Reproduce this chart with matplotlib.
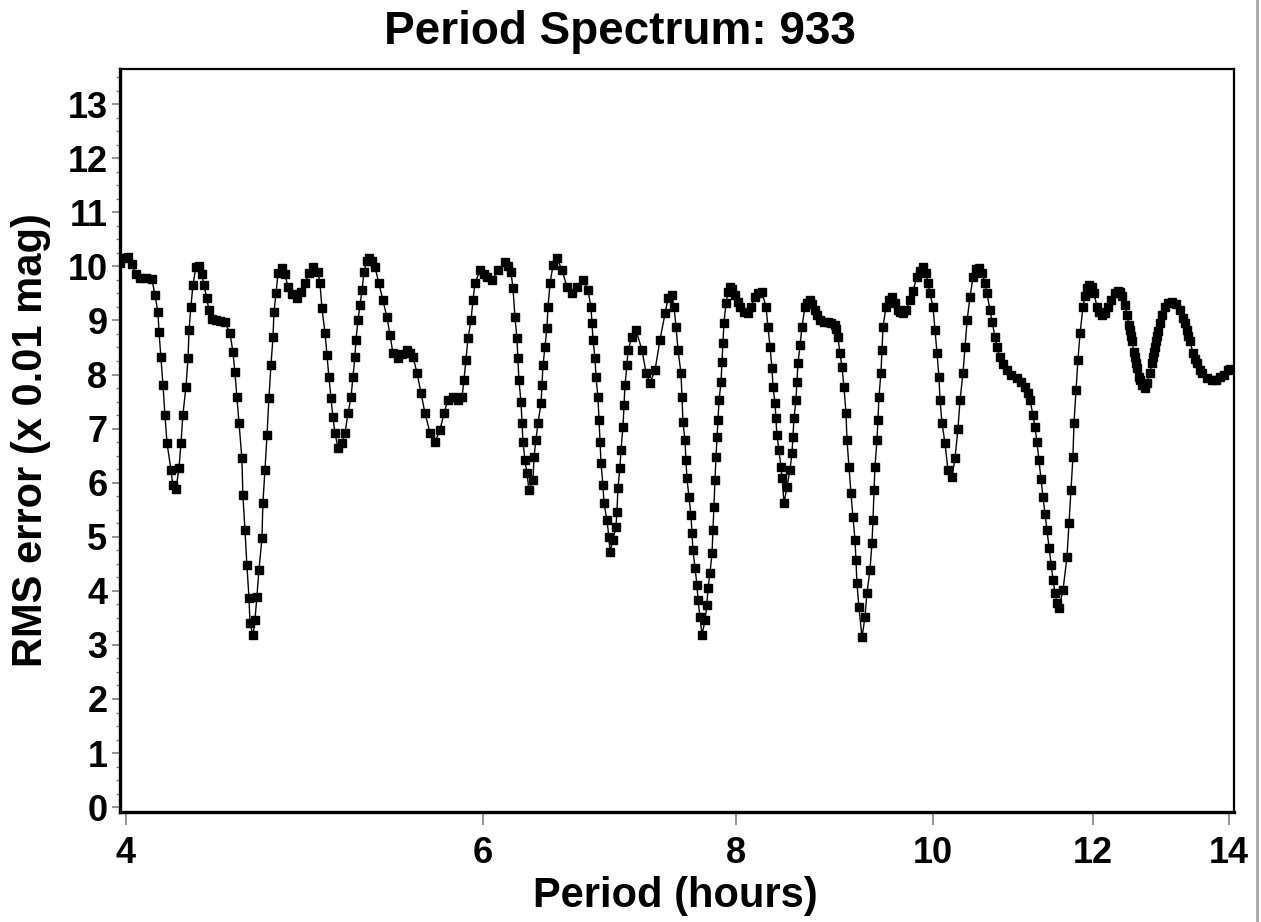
import matplotlib
matplotlib.use("Agg")
import matplotlib.pyplot as plt
from matplotlib.lines import Line2D
from matplotlib.ticker import FixedLocator, MultipleLocator, NullLocator, FormatStrFormatter

plt.rcParams['font.family'] = ['Liberation Sans', 'DejaVu Sans']
plt.rcParams['font.weight'] = 'bold'

# Period (hours) and RMS error (x 0.01 mag)
period = [
    3.973, 3.991, 4.009, 4.027, 4.045, 4.064, 4.092, 4.120, 4.134, 4.148,
    4.153, 4.162, 4.172, 4.181, 4.191, 4.210, 4.219, 4.234, 4.248, 4.258,
    4.267, 4.282, 4.292, 4.297, 4.306, 4.316, 4.331, 4.346, 4.361, 4.370,
    4.385, 4.395, 4.410, 4.430, 4.451, 4.476, 4.502, 4.517, 4.527, 4.537,
    4.548, 4.563, 4.568, 4.579, 4.589, 4.600, 4.605, 4.621, 4.631, 4.641,
    4.652, 4.668, 4.673, 4.684, 4.695, 4.705, 4.716, 4.727, 4.732, 4.743,
    4.754, 4.775, 4.792, 4.808, 4.830, 4.857, 4.880, 4.902, 4.924, 4.947,
    4.975, 4.986, 4.997, 5.015, 5.026, 5.037, 5.049, 5.060, 5.072, 5.089,
    5.112, 5.130, 5.147, 5.165, 5.176, 5.188, 5.194, 5.206, 5.218, 5.230,
    5.241, 5.259, 5.271, 5.289, 5.307, 5.331, 5.356, 5.380, 5.399, 5.417,
    5.448, 5.473, 5.504, 5.523, 5.542, 5.567, 5.592, 5.618, 5.650, 5.682,
    5.714, 5.740, 5.766, 5.799, 5.832, 5.859, 5.872, 5.885, 5.899, 5.919,
    5.932, 5.946, 5.980, 6.007, 6.028, 6.062, 6.103, 6.152, 6.173, 6.194,
    6.208, 6.222, 6.236, 6.243, 6.250, 6.265, 6.272, 6.279, 6.293, 6.307,
    6.322, 6.351, 6.358, 6.372, 6.387, 6.409, 6.416, 6.423, 6.438, 6.452,
    6.460, 6.475, 6.497, 6.526, 6.564, 6.601, 6.638, 6.676, 6.722, 6.760,
    6.783, 6.791, 6.799, 6.814, 6.822, 6.837, 6.845, 6.853, 6.861, 6.876,
    6.884, 6.907, 6.923, 6.931, 6.955, 6.978, 6.986, 6.994, 7.010, 7.018,
    7.034, 7.042, 7.050, 7.066, 7.074, 7.107, 7.139, 7.188, 7.221, 7.253,
    7.295, 7.336, 7.378, 7.403, 7.437, 7.454, 7.471, 7.488, 7.513, 7.522,
    7.530, 7.547, 7.556, 7.564, 7.582, 7.599, 7.608, 7.616, 7.634, 7.651,
    7.660, 7.677, 7.695, 7.721, 7.738, 7.747, 7.765, 7.783, 7.791, 7.800,
    7.809, 7.818, 7.827, 7.836, 7.845, 7.863, 7.871, 7.880, 7.889, 7.907,
    7.925, 7.943, 7.961, 7.988, 8.016, 8.034, 8.070, 8.107, 8.135, 8.172,
    8.200, 8.237, 8.275, 8.293, 8.313,
    8.331, 8.341, 8.360, 8.369, 8.378, 8.397, 8.417, 8.427, 8.446, 8.474,
    8.503, 8.523, 8.532, 8.542, 8.561, 8.571, 8.581, 8.601, 8.620, 8.649,
    8.669, 8.699, 8.718, 8.748, 8.768, 8.798, 8.838, 8.878, 8.909, 8.949,
    8.959, 8.979, 9.000, 9.021, 9.041, 9.062,
    9.072, 9.093, 9.113, 9.134, 9.155, 9.165, 9.175, 9.196, 9.228, 9.259,
    9.280, 9.312, 9.333, 9.344, 9.355, 9.365, 9.386, 9.397, 9.407, 9.429,
    9.440, 9.451, 9.483, 9.515, 9.548, 9.580, 9.613, 9.635, 9.668, 9.701,
    9.745, 9.778, 9.823, 9.856, 9.890, 9.923, 9.946, 9.969,
    10.003, 10.026, 10.049, 10.071, 10.083, 10.106, 10.140, 10.175, 10.221, 10.256,
    10.291, 10.315, 10.350, 10.374, 10.398, 10.432, 10.468, 10.504, 10.540, 10.576,
    10.611, 10.635, 10.672, 10.696,
    10.733, 10.757, 10.794, 10.831, 10.880, 10.930, 11.004, 11.054, 11.105, 11.143,
    11.168, 11.206, 11.231, 11.257, 11.282,
    11.308, 11.334, 11.360, 11.386, 11.411, 11.438, 11.464, 11.490, 11.516, 11.542,
    11.594, 11.647, 11.674, 11.700, 11.726, 11.740, 11.767, 11.793,
    11.821, 11.861, 11.888, 11.915, 11.942, 11.983, 12.010, 12.051, 12.078, 12.120,
    12.161, 12.202, 12.244, 12.300, 12.342, 12.370, 12.398, 12.440, 12.468, 12.496,
    12.511, 12.525, 12.539, 12.568, 12.582, 12.597, 12.611, 12.639, 12.654, 12.683,
    12.726, 12.755, 12.799, 12.828, 12.843, 12.857, 12.872, 12.886, 12.901, 12.916,
    12.945, 12.975, 13.019, 13.063, 13.122, 13.182, 13.242, 13.287, 13.317, 13.347,
    13.362, 13.394, 13.439, 13.470, 13.500, 13.546, 13.577, 13.655, 13.732, 13.795,
    13.858, 13.921, 13.984, 14.016,
]
rms = [
    10.07, 10.15, 10.17, 10.05, 9.85, 9.78, 9.78, 9.76, 9.47, 9.15,
    8.78, 8.32, 7.80, 7.25, 6.73, 6.23, 5.95, 5.88, 6.27, 6.73,
    7.25, 7.77, 8.30, 8.82, 9.25, 9.65, 9.99, 10.00, 9.85, 9.65,
    9.41, 9.19, 9.02, 9.00, 8.99, 8.97, 8.76, 8.41, 8.04, 7.58,
    7.10, 6.45, 5.77, 5.12, 4.47, 3.86, 3.40, 3.18, 3.46, 3.88,
    4.38, 4.97, 5.62, 6.23, 6.88, 7.56, 8.17, 8.69, 9.15, 9.50,
    9.87, 9.97, 9.85, 9.62, 9.48, 9.41, 9.52, 9.69, 9.88, 9.99,
    9.89, 9.69, 9.23, 8.76, 8.36, 7.95, 7.56, 7.21, 6.92, 6.64,
    6.73, 6.92, 7.28, 7.58, 7.95, 8.32, 8.64, 9.00, 9.28, 9.56,
    9.89, 10.10, 10.15, 10.10, 9.99, 9.69, 9.37, 9.06, 8.73, 8.39,
    8.30, 8.38, 8.45, 8.40, 8.32, 8.03, 7.66, 7.28, 6.92, 6.75,
    6.97, 7.28, 7.53, 7.58, 7.53, 7.58, 7.90, 8.27, 8.67, 9.00,
    9.37, 9.69, 9.93, 9.85, 9.80, 9.75, 9.93, 10.08, 10.00, 9.89,
    9.60, 9.06, 8.67, 8.30, 7.90, 7.49, 7.10, 6.75, 6.42, 6.18,
    5.86, 6.05, 6.47, 6.79, 7.10, 7.47, 7.80, 8.17, 8.51, 8.86,
    9.25, 9.69, 10.02, 10.15, 9.93, 9.62, 9.50, 9.62, 9.75, 9.56,
    9.25, 8.95, 8.64, 8.30, 7.95, 7.58, 7.16, 6.75, 6.36, 5.95,
    5.62, 5.31, 4.99, 4.72, 4.94, 5.18, 5.45, 5.90, 6.27, 6.60,
    7.03, 7.43, 7.80, 8.17, 8.45, 8.69, 8.82, 8.45, 8.03, 7.84,
    8.08, 8.64, 9.13, 9.41, 9.47, 9.25, 8.88, 8.45, 8.03, 7.58,
    7.12, 6.79, 6.42, 6.08, 5.73, 5.40, 5.07, 4.75, 4.42, 4.11,
    3.83, 3.51, 3.18, 3.46, 3.74, 4.05, 4.33, 4.70, 5.12, 5.55,
    6.05, 6.47, 6.84, 7.16, 7.53, 7.86, 8.23, 8.58, 8.95, 9.32,
    9.52, 9.62, 9.58, 9.47, 9.35, 9.25, 9.15, 9.13, 9.25, 9.43,
    9.50, 9.52, 9.25, 8.88, 8.51,
    8.12, 7.77, 7.47, 7.19, 6.88, 6.60, 6.29, 6.08, 5.62, 5.92,
    6.23, 6.55, 6.84, 7.19, 7.53, 7.86, 8.21, 8.54, 8.88, 9.25,
    9.33, 9.37, 9.30, 9.19, 9.10, 9.00, 8.98, 8.97, 8.96, 8.91,
    8.85, 8.69, 8.39, 8.14, 7.77, 7.28,
    6.79, 6.29, 5.81, 5.36, 4.94, 4.57, 4.14, 3.70, 3.14, 3.51,
    3.96, 4.38, 4.88, 5.31, 5.86, 6.29, 6.79, 7.16, 7.58, 8.03,
    8.45, 8.88, 9.25, 9.38, 9.43, 9.32, 9.19, 9.15, 9.13, 9.20,
    9.37, 9.55, 9.80, 9.92, 9.99, 9.88, 9.69, 9.50,
    9.25, 8.82, 8.39, 7.95, 7.53, 7.10, 6.73, 6.23, 6.10, 6.45,
    7.00, 7.53, 8.03, 8.51, 9.00, 9.43, 9.80, 9.95, 9.97, 9.88,
    9.69, 9.50, 9.19, 8.98,
    8.69, 8.50, 8.32, 8.20, 8.08, 8.00, 7.93, 7.87, 7.77, 7.66,
    7.53, 7.25, 7.03, 6.75, 6.42,
    6.07, 5.73, 5.42, 5.12, 4.80, 4.48, 4.20, 3.96, 3.78, 3.68,
    4.01, 4.62, 5.25, 5.86, 6.47, 7.10, 7.71, 8.27,
    8.76, 9.25, 9.45, 9.60, 9.66, 9.62, 9.50, 9.25, 9.15, 9.10,
    9.13, 9.25, 9.38, 9.50, 9.55, 9.52, 9.45, 9.28, 9.10, 8.92,
    8.82, 8.72, 8.62, 8.42, 8.32, 8.22, 8.12, 7.96, 7.90, 7.80,
    7.75, 7.85, 8.03, 8.22, 8.32, 8.42, 8.51, 8.62, 8.72, 8.80,
    8.95, 9.10, 9.25, 9.33, 9.34, 9.30, 9.19, 9.05, 8.95, 8.82,
    8.72, 8.62, 8.39, 8.28, 8.22, 8.08, 8.03, 7.93, 7.90, 7.90,
    7.95, 8.00, 8.08, 8.10,
]

x_ticks = [4, 6, 8, 10, 12, 14]

fig = plt.figure(figsize=(12.61, 9.22), dpi=100)
ax = fig.add_axes([120 / 1261, 1 - 812 / 922, 1114 / 1261, 743 / 922])

ax.plot(period, rms, color='black', lw=1.0, marker='s', ms=5.3,
        mec='black', mfc='black')

ax.set_xscale('log')
ax.set_xlim(3.973, 14.08)
ax.set_ylim(-0.09, 13.65)

ax.xaxis.set_major_locator(FixedLocator(x_ticks))
ax.xaxis.set_major_formatter(FormatStrFormatter('%d'))
ax.xaxis.set_minor_locator(NullLocator())
ax.yaxis.set_major_locator(MultipleLocator(1))
ax.yaxis.set_minor_locator(MultipleLocator(0.25))

ax.tick_params(axis='x', which='major', length=9, width=1.2, color='#808080',
               pad=8, labelsize=26, top=False)
ax.tick_params(axis='y', which='major', length=6, width=1.2, color='#808080',
               pad=3, labelsize=26, right=False)
ax.tick_params(axis='y', which='minor', length=3, width=1.0, color='#808080',
               right=False)

for side in ['left', 'bottom']:
    ax.spines[side].set_linewidth(2.4)
for side in ['top', 'right']:
    ax.spines[side].set_linewidth(1.6)

fig.text(620 / 1261, 1 - 32 / 922, 'Period Spectrum: 933', ha='center',
         va='center', fontsize=33, fontweight='bold')
fig.text(675 / 1261, 1 - 896 / 922, 'Period (hours)', ha='center',
         va='center', fontsize=30, fontweight='bold')
fig.text(31 / 1261, 1 - 440 / 922, 'RMS error (x 0.01 mag)', ha='center',
         va='center', rotation=90, fontsize=30, fontweight='bold')

# window border at the right edge of the screenshot
fig.add_artist(Line2D([1256.5 / 1261, 1256.5 / 1261], [0, 1],
                      transform=fig.transFigure, color='#a8a8a8', lw=2))

fig.savefig('out.png', dpi=100, facecolor='white')
